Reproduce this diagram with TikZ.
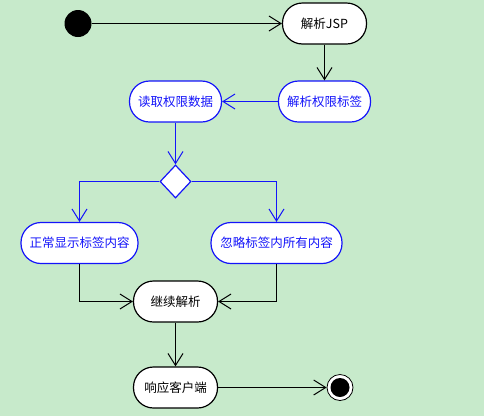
\documentclass[tikz,border=0pt]{standalone}
\usepackage{fontspec}
\newfontfamily\cjk{Noto Sans CJK SC}
\usetikzlibrary{arrows.meta,shapes.geometric}
\definecolor{bg}{RGB}{199,234,203}
\definecolor{umlblue}{RGB}{20,20,250}
\begin{document}
\begin{tikzpicture}[x=1pt,y=-1pt,
  act/.style={draw,fill=white,rounded corners=20pt,minimum height=41pt,inner sep=0pt,
     font=\cjk\fontsize{12.5}{14}\selectfont,line width=1.2pt},
  bact/.style={act,draw=umlblue,text=umlblue},
  flow/.style={line width=1.2pt,-{Straight Barb[length=12pt,width=15pt,line width=1pt]}},
  bflow/.style={flow,draw=umlblue}]
\fill[bg] (0,0) rectangle (484,416);
\useasboundingbox (0,0) rectangle (484,416);
\node[circle,fill=black,minimum size=27pt,inner sep=0pt] (start) at (78,23.5) {};
\node[act,minimum width=84pt] (jsp) at (324.5,23.5) {解析JSP};
\node[bact,minimum width=92pt] (tag) at (324.5,101.5) {解析权限标签};
\node[bact,minimum width=92pt] (read) at (175.5,101.5) {读取权限数据};
\node[diamond,draw=umlblue,fill=white,line width=1.2pt,minimum width=31pt,minimum height=33pt,inner sep=0pt] (dec) at (175.5,181.5) {};
\node[bact,minimum width=117pt] (show) at (79.5,243) {正常显示标签内容};
\node[bact,minimum width=131pt] (ign) at (276.5,243) {忽略标签内所有内容};
\node[act,minimum width=84pt] (cont) at (175.5,301.5) {继续解析};
\node[act,minimum width=84pt] (resp) at (175.5,387.5) {响应客户端};
\node[circle,draw=black,fill=white,line width=0.8pt,minimum size=26pt,inner sep=0pt] (end) at (340,387.5) {};
\node[circle,fill=black,minimum size=19pt,inner sep=0pt] at (end.center) {};
\draw[flow] (start) -- (jsp);
\draw[flow] (jsp) -- (tag);
\draw[bflow] (tag) -- (read);
\draw[bflow] (read) -- (dec);
\draw[bflow] (dec.west) -| (show.north);
\draw[bflow] (dec.east) -| (ign.north);
\draw[flow] (show.south) |- (cont.west);
\draw[flow] (ign.south) |- (cont.east);
\draw[flow] (cont) -- (resp);
\draw[flow] (resp) -- (end);
\end{tikzpicture}
\end{document}
